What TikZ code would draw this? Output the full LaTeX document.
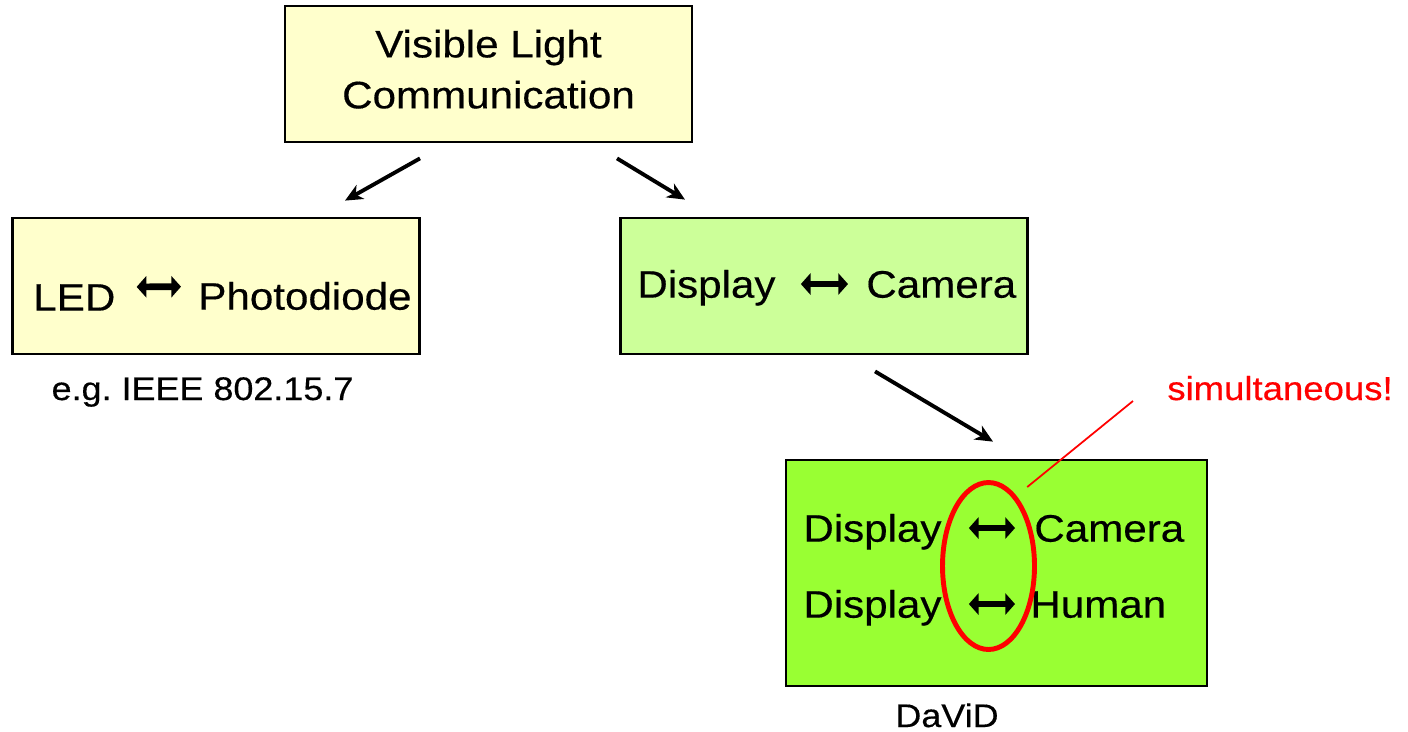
\documentclass[tikz,border=0pt]{standalone}
\usepackage{fontspec}
\setmainfont{Liberation Sans}[FakeStretch=1.1, FakeBold=0.4]
\usetikzlibrary{arrows.meta,shapes.geometric}
\definecolor{paleyellow}{HTML}{FFFFCC}
\definecolor{palegreen}{HTML}{CCFF99}
\definecolor{limegreen}{HTML}{99FF33}
\frenchspacing

\begin{document}
\begin{tikzpicture}[
    x=0.02cm, y=-0.02cm,
    box/.style={rectangle, draw=black, line width=1.6pt, inner sep=0pt, minimum width=8.14cm, minimum height=2.72cm},
    word/.style={inner sep=0pt, anchor=south west, text height=15.5pt, text depth=0pt, font=\fontsize{21.8}{29}\selectfont},
    note/.style={inner sep=0pt, anchor=base, font=\fontsize{18.6}{22}\selectfont},
    arrow/.style={-{Stealth[length=10pt,width=9pt,inset=3pt]}, line width=2.2pt},
    duplex/.style={{Triangle[length=5.5pt 0 0,width=12pt 0 0]}-{Triangle[length=5.5pt 0 0,width=12pt 0 0]}, line width=3.8pt}
]
\useasboundingbox (0,0) rectangle (1408,731);

% Boxes
\node[box, fill=paleyellow, align=center, text depth=5.7pt, font=\fontsize{21.8}{29}\selectfont] (vlc) at (488.5,74) {Visible Light\\Communication};
\node[box, fill=paleyellow] (ledbox) at (216,286) {};
\node[box, fill=palegreen] (dcbox) at (824,286) {};
\node[box, fill=limegreen, minimum width=8.42cm, minimum height=4.52cm] (davidbox) at (996.5,573) {};

% Words
\node[word] (led) at (33,311) {LED};
\node[word] (photo) at (198,310) {Photodiode};
\node[word] (disp) at (637,298) {Display};
\node[word] (cam) at (866,298) {Camera};
\node[word] (dispa) at (803,542) {Display};
\node[word] (cama) at (1034,542) {Camera};
\node[word] (dispb) at (803,618) {Display};
\node[word] (human) at (1030,618) {Human};

% Notes
\node[note] (ieee) at (202.5,400) {e.g. IEEE 802.15.7};
\node[note] (david) at (947,727) {DaViD};
\node[note, text=red, font=\fontsize{18.9}{22}\selectfont] (simul) at (1280,400) {simultaneous!};
\node[ellipse, draw=red, line width=2.8pt, inner sep=0pt, minimum width=1.84cm, minimum height=3.34cm] (oval) at (988.5,566) {};

% Arrows
\draw[arrow] ([shift={(-68.5,15)}]vlc.south) -- ([shift={(129,-16)}]ledbox.north);
\draw[arrow] ([shift={(128.5,15)}]vlc.south) -- ([shift={(-139,-17)}]dcbox.north);
\draw[arrow] ([shift={(51,16)}]dcbox.south) -- ([shift={(-3.5,-17)}]davidbox.north);

\draw[duplex, shorten <=0.42cm, shorten >=0.34cm] ([yshift=0.2cm]led.east) -- ([yshift=0.19cm]photo.west);
\draw[duplex, shorten <=0.5cm, shorten >=0.36cm] (disp.east) -- (cam.west);
\draw[duplex, shorten <=0.54cm, shorten >=0.38cm] (dispa.east) -- (cama.west);
\draw[duplex, shorten <=0.54cm, shorten >=0.3cm] (dispb.east) -- (human.west);

\draw[red, line width=1pt] ([shift={(7,-14)}]oval.64) -- ([shift={(-34,1)}]simul.base west);

\end{tikzpicture}
\end{document}
